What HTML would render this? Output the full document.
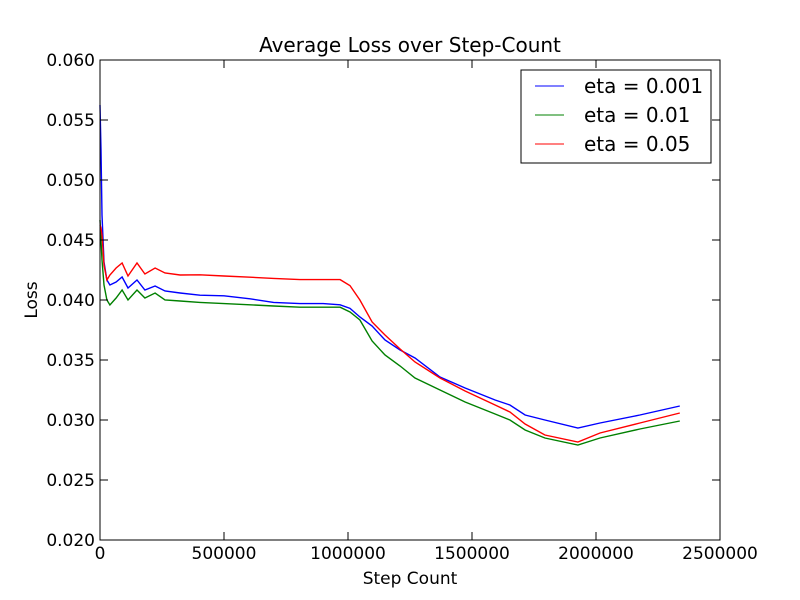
<!DOCTYPE html>
<html><head><meta charset="utf-8"><style>
body{margin:0;background:#fff}
svg{display:block;font-family:"DejaVu Sans","Liberation Sans",sans-serif}
</style></head><body>
<svg id="chart" width="800" height="600" viewBox="0 0 800 600">
<rect width="800" height="600" fill="#fff"/>
<text x="410" y="52" font-size="20" text-anchor="middle">Average Loss over Step-Count</text>
<g id="marks"></g>
<rect x="100" y="60" width="620" height="480" fill="none" stroke="#000" stroke-width="1"/>
<g id="ticks"></g>
<text x="410" y="584" font-size="17" text-anchor="middle">Step Count</text>
<text x="37" y="300" font-size="17" text-anchor="middle" transform="rotate(-90 37 300)">Loss</text>
<g>
<rect x="521" y="70" width="190" height="93" fill="#fff" stroke="#000"/>
<line x1="535" y1="86" x2="564" y2="86" stroke="#0000ff"/>
<text x="584" y="93" font-size="20">eta = 0.001</text>
<line x1="535" y1="115" x2="564" y2="115" stroke="#008000"/>
<text x="584" y="122" font-size="20">eta = 0.01</text>
<line x1="535" y1="144" x2="564" y2="144" stroke="#ff0000"/>
<text x="584" y="151" font-size="20">eta = 0.05</text>
</g>
</svg>
<script>
const steps=[0,4000,8000,16000,28000,40000,65000,89000,113000,149000,181000,222000,262000,323000,403000,500000,605000,700000,806000,900000,968000,1008000,1048000,1097000,1149000,1210000,1270000,1371000,1472000,1593000,1653000,1714000,1794000,1927000,2016000,2177000,2338000];
const lossBlue=[.05625,.0525,.04708,.04317,.04167,.04125,.0415,.04192,.041,.04167,.04083,.04117,.04075,.04058,.0404,.04035,.0401,.0398,.0397,.0397,.0396,.0393,.03858,.03783,.03667,.03583,.03517,.03358,.03267,.03167,.03125,.03042,.03,.02933,.02975,.03042,.03117];
const lossGreen=[.04667,.045,.04333,.04125,.04,.03958,.04017,.04083,.04,.04083,.04017,.04058,.04,.03992,.0398,.0397,.0396,.0395,.0394,.0394,.0394,.039,.03833,.03658,.03542,.0345,.0335,.0325,.0315,.0305,.03,.02917,.0285,.02792,.0285,.02925,.02992];
const lossRed=[.04625,.046,.04542,.04292,.04167,.04208,.04267,.04308,.042,.04308,.04217,.04267,.04225,.04208,.0421,.042,.0419,.0418,.0417,.0417,.0417,.0412,.04,.03817,.03708,.03592,.03483,.0335,.03242,.03125,.03067,.02967,.02875,.02817,.02892,.02975,.03058];
const xTicks=[0,500000,1000000,1500000,2000000,2500000];
const yTicks=[0.020,0.025,0.030,0.035,0.040,0.045,0.050,0.055,0.060];
const NS="http://www.w3.org/2000/svg";
const X=v=>100+v/2500000*620;
const Y=v=>540-(v-0.02)/0.04*480;
const marks=document.getElementById('marks'),ticks=document.getElementById('ticks');
function series(vals,color,name){
  const p=document.createElementNS(NS,'polyline');
  p.setAttribute('points',steps.map((s,i)=>X(s).toFixed(1)+','+Y(vals[i]).toFixed(1)).join(' '));
  p.setAttribute('fill','none');p.setAttribute('stroke',color);p.setAttribute('stroke-width','1.4');
  
  
  marks.appendChild(p);
}
series(lossBlue,'#0000ff','line-eta-0001');
series(lossGreen,'#008000','line-eta-001');
series(lossRed,'#ff0000','line-eta-005');
function ln(x1,y1,x2,y2){const l=document.createElementNS(NS,'line');l.setAttribute('x1',x1);l.setAttribute('y1',y1);l.setAttribute('x2',x2);l.setAttribute('y2',y2);l.setAttribute('stroke','#000');ticks.appendChild(l);return l;}
function tx(x,y,s,a){const t=document.createElementNS(NS,'text');t.setAttribute('x',x);t.setAttribute('y',y);t.setAttribute('font-size','17');t.setAttribute('text-anchor',a);t.textContent=s;ticks.appendChild(t);return t;}
xTicks.forEach(v=>{const x=X(v);ln(x,540,x,532);ln(x,60,x,68);
  const t=tx(x,559,String(v),'middle');
  
  });
yTicks.forEach(v=>{const y=Y(v);ln(100,y,108,y);ln(720,y,712,y);
  const t=tx(95,y+6,v.toFixed(3),'end');
  
  });
</script>
</body></html>
